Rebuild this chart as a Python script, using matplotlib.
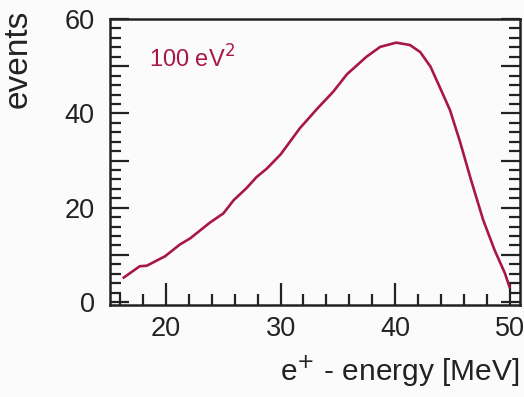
import matplotlib.pyplot as plt
from matplotlib.ticker import MultipleLocator, FuncFormatter

plt.rcParams['font.family'] = ['Liberation Sans', 'DejaVu Sans']

# positron energy spectrum
energie = [16.3, 17.7, 18.3, 19.9, 21.2, 22.1, 23.8, 25.0, 25.9, 27.0, 27.9, 28.8,
           30.0, 31.7, 33.2, 34.6, 35.8, 37.5, 38.7, 40.1, 41.3, 42.2, 43.1, 43.9,
           44.8, 45.7, 46.6, 47.7, 48.7, 49.6, 50.0]
ivykiai = [5.2, 7.6, 7.7, 9.7, 12.2, 13.5, 16.8, 18.8, 21.6, 24.1, 26.5, 28.3,
           31.3, 36.9, 41.0, 44.6, 48.3, 52.0, 54.1, 55.0, 54.5, 53.0, 49.9, 45.6,
           40.7, 33.8, 26.2, 17.4, 11.0, 6.1, 3.2]
spalva = '#a8164a'

langas = plt.figure(figsize=(5.24, 3.97), dpi=100, facecolor='#fbfbfb')
grafikas = langas.add_axes([0.21, 0.232, 0.782, 0.72])
grafikas.set_facecolor('#fbfbfb')

grafikas.plot(energie, ivykiai, color=spalva, linewidth=1.9,
              solid_joinstyle='round')

grafikas.set_xlim(15.1, 50.9)
grafikas.set_ylim(-0.6, 60)

grafikas.xaxis.set_major_locator(MultipleLocator(10))
grafikas.xaxis.set_minor_locator(MultipleLocator(2))
grafikas.yaxis.set_major_locator(MultipleLocator(10))
grafikas.yaxis.set_minor_locator(MultipleLocator(2))
grafikas.yaxis.set_major_formatter(FuncFormatter(lambda v, p: f"{v:.0f}" if v % 20 == 0 else ""))

grafikas.tick_params(which='both', direction='in', width=1.6, colors='#222222',
                     labelsize=19.5, right=True, top=False)
grafikas.tick_params(axis='x', which='major', length=16, pad=8)
grafikas.tick_params(axis='x', which='minor', length=8)
grafikas.tick_params(axis='y', which='major', length=14, pad=11)
grafikas.tick_params(axis='y', which='minor', length=8)
for s in grafikas.spines.values():
    s.set_linewidth(1.8)
    s.set_color('#222222')

grafikas.text(0.094, 0.83, "100 eV$^2$", transform=grafikas.transAxes,
              color=spalva, fontsize=17)

langas.text(0.992, 0.02, "e$^{+}$ - energy [MeV]", ha='right', va='bottom',
            fontsize=21.5, color='#222222')
langas.text(0.035, 0.975, "events", rotation=90, ha='center', va='top',
            fontsize=24, color='#222222')

langas.savefig('out.png', dpi=100, facecolor=langas.get_facecolor())
